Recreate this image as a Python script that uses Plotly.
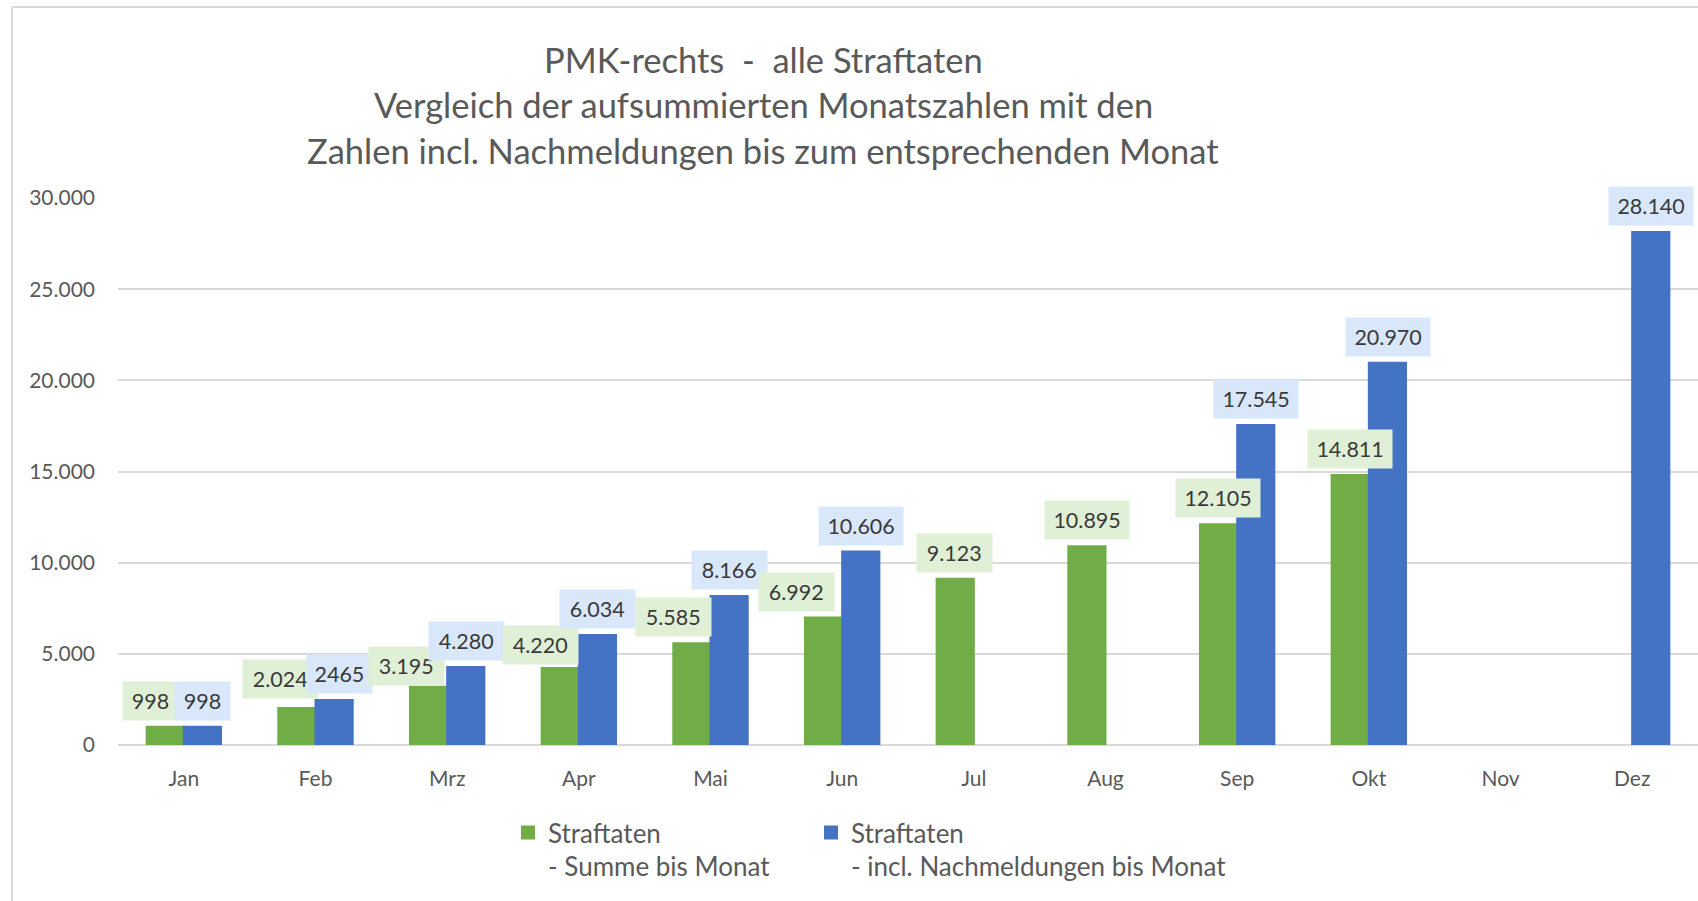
import plotly.graph_objects as go

# ---------------- data ----------------
months = ["Jan", "Feb", "Mrz", "Apr", "Mai", "Jun", "Jul", "Aug", "Sep", "Okt", "Nov", "Dez"]
summe_bis_monat = [998, 2024, 3195, 4220, 5585, 6992, 9123, 10895, 12105, 14811, None, None]
incl_nachmeldungen = [998, 2465, 4280, 6034, 8166, 10606, None, None, 17545, 20970, None, 28140]
summe_labels = ["998", "2.024", "3.195", "4.220", "5.585", "6.992", "9.123", "10.895", "12.105", "14.811", "", ""]
incl_labels = ["998", "2465", "4.280", "6.034", "8.166", "10.606", "", "", "17.545", "20.970", "", "28.140"]
y_ticks = [0, 5000, 10000, 15000, 20000, 25000, 30000]
title_lines = [
    "PMK-rechts\u00a0\u00a0-\u00a0\u00a0alle Straftaten",
    "Vergleich der aufsummierten Monatszahlen mit den",
    "Zahlen incl. Nachmeldungen bis zum entsprechenden Monat",
]
legend_names = ["Straftaten<br>- Summe bis Monat", "Straftaten<br>- incl. Nachmeldungen bis Monat"]

# ---------------- style / layout ----------------
W, H = 1698, 901
ML, MR, MT, MB = 118, 0, 198, 156
PH = H - MT - MB
PW = W - ML - MR
FONT = "Lato, 'Open Sans', sans-serif"
GREEN, BLUE = "#70ad47", "#4472c4"
GREEN_BOX, BLUE_BOX = "#e0f0d6", "#d8e7fa"
BAR_HALF = 19  # px offset from category centre to bar centre
# label nudges (pixels) to avoid overlap, as in the original
green_dx = [-14, -16, -22, -19, -18, -27, 0, 0, 0, 0, 0, 0]
green_dy = [0, 3, -5, -3, 0, 0, 0, 0, 0, 0, 0, 0]
blue_dx = [0, 5, 0, 0, 0, 0, 0, 0, 0, 0, 0, 0]
PAD = 5


def px_y(y):
    return (H - MB - y) / PH


def px_x(x):
    return (x - ML) / PW


fig = go.Figure()
fig.add_trace(go.Bar(
    x=months, y=summe_bis_monat, name=legend_names[0], legend="legend",
    marker=dict(color=GREEN, line=dict(color=GREEN, width=2)),
    hoverinfo="x+y",
))
fig.add_trace(go.Bar(
    x=months, y=incl_nachmeldungen, name=legend_names[1], legend="legend2",
    marker=dict(color=BLUE, line=dict(color=BLUE, width=2)),
    hoverinfo="x+y",
))

annotations = []
for i, m in enumerate(months):
    for vals, labs, sign, dxs, box in (
        (summe_bis_monat, summe_labels, -1, green_dx, GREEN_BOX),
        (incl_nachmeldungen, incl_labels, 1, blue_dx, BLUE_BOX),
    ):
        v = vals[i]
        if v is None:
            continue
        dy = green_dy[i] if sign < 0 else 0
        box_w = 26 + 9.7 * len(labs[i])
        annotations.append(dict(
            x=m, y=v, xref="x", yref="y", text=labs[i], showarrow=False,
            xshift=sign * BAR_HALF + dxs[i], yshift=26 + dy,
            xanchor="center", yanchor="middle",
            font=dict(family=FONT, size=21.5, color="#3a3a3a"),
            bgcolor=box, borderpad=PAD, width=box_w - 2 * PAD, height=38 - 2 * PAD,
        ))

for k, (line, yc) in enumerate(zip(title_lines, [60, 105, 150])):
    annotations.append(dict(
        x=px_x(763), y=px_y(yc), xref="paper", yref="paper", text=line,
        showarrow=False, xanchor="center", yanchor="middle",
        font=dict(family=FONT, size=34.5, color="#595959"),
    ))

shapes = [
    dict(type="line", xref="paper", yref="paper", x0=px_x(12), x1=px_x(12),
         y0=px_y(7), y1=px_y(H + 5), line=dict(color="#d9d9d9", width=2)),
    dict(type="line", xref="paper", yref="paper", x0=px_x(12), x1=px_x(W + 5),
         y0=px_y(7), y1=px_y(7), line=dict(color="#d9d9d9", width=2)),
]

legend_common = dict(
    orientation="h", yanchor="top", xanchor="left", y=px_y(809),
    font=dict(family=FONT, size=26, color="#595959"),
    valign="top", bgcolor="rgba(0,0,0,0)",
)

fig.update_layout(
    width=W, height=H,
    margin=dict(l=ML, r=MR, t=MT, b=MB),
    paper_bgcolor="white", plot_bgcolor="white",
    separators=",.",
    barmode="group", bargap=0.435, bargroupgap=0,
    font=dict(family=FONT, size=21, color="#595959"),
    showlegend=True,
    legend=dict(x=px_x(508), **legend_common),
    legend2=dict(x=px_x(811), **legend_common),
    xaxis=dict(
        type="category", showgrid=False, showline=False, ticks="",
        tickfont=dict(family=FONT, size=21, color="#595959"),
        ticklabelstandoff=19,
    ),
    yaxis=dict(
        range=[0, 30000], tickvals=y_ticks, tickformat=",d",
        showgrid=True, gridcolor="#d9d9d9", gridwidth=1.5,
        zeroline=True, zerolinecolor="#d9d9d9", zerolinewidth=1.5,
        showline=False, ticks="", ticklabelstandoff=22,
        tickfont=dict(family=FONT, size=21, color="#595959"),
    ),
    annotations=annotations,
    shapes=shapes,
)

fig.write_html("out.html")
